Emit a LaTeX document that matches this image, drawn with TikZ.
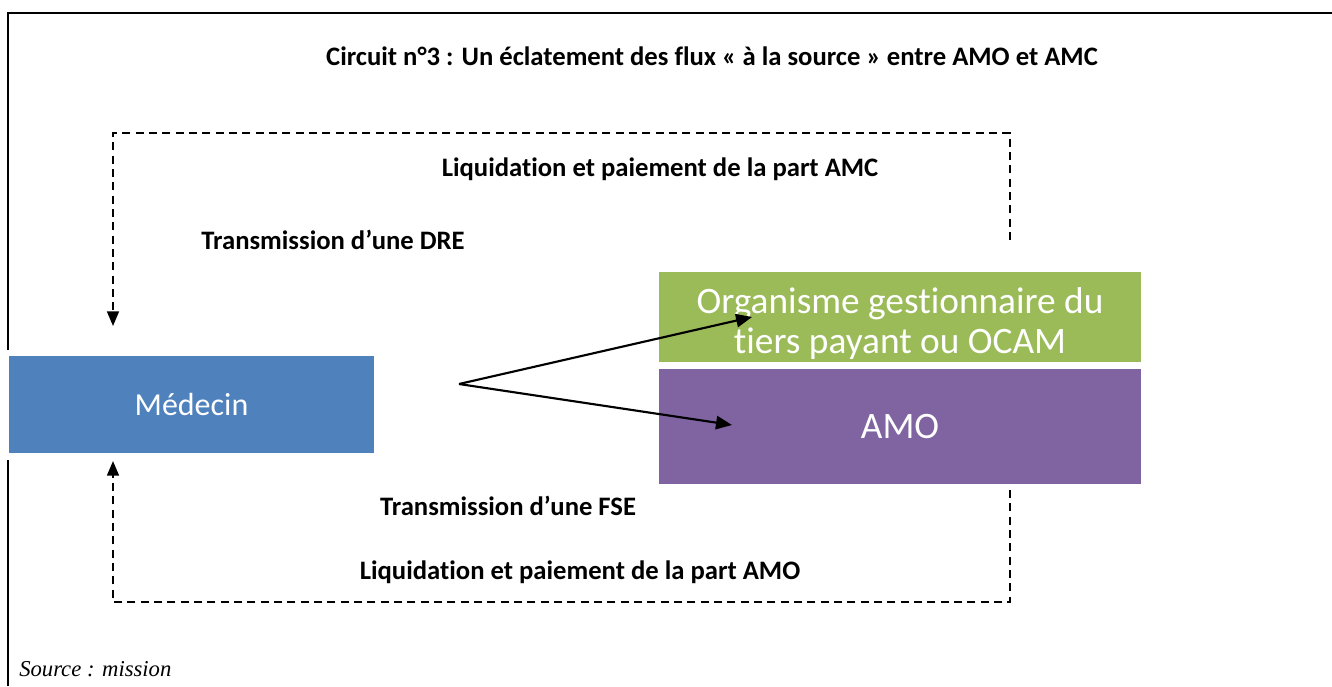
\documentclass[tikz,border=0pt]{standalone}
\usepackage{fontspec}
\setmainfont{Carlito}[Ligatures=NoCommon]
\newfontfamily\srcfont{Liberation Serif}
\usetikzlibrary{arrows.meta}
\definecolor{bluebox}{HTML}{4F81BD}
\definecolor{greenbox}{HTML}{9BBB59}
\definecolor{purplebox}{HTML}{8064A2}
\begin{document}
\begin{tikzpicture}[x=0.75pt,y=-0.75pt,
  frame/.style={line width=2.2pt},
  flow/.style={dashed,line width=1.3pt,dash pattern=on 6pt off 4pt},
  flowarrow/.style={flow,-{Triangle[length=11pt,width=9pt]}},
  boxtext/.style={text=white,font=\fontsize{28}{30}\selectfont,align=center,inner sep=0pt},
  lbl/.style={font=\bfseries\fontsize{20}{24}\selectfont,inner sep=0pt},
  solidarrow/.style={line width=1.6pt,-{Triangle[length=12pt,width=10pt]}}]
\useasboundingbox (0,0) rectangle (1332,686);
% frame
\draw[frame] (8,686) -- (8,460);
\draw[frame] (8,350) -- (8,13) -- (1332,13);
% boxes
\fill[bluebox] (9,356) rectangle (374,453);
\node[boxtext,font=\fontsize{24}{28}\selectfont] (med) at (191.5,404.5) {Médecin};
\fill[greenbox] (659,272) rectangle (1141,362);
\node[boxtext] (oc) at (900,324) {Organisme gestionnaire du\\tiers payant ou OCAM};
\fill[purplebox] (659,369) rectangle (1141,484);
\node[boxtext] (amo) at (900,426.5) {AMO};
% labels
\node[lbl] (title) at (712,56) {Circuit n°3 : Un éclatement des flux « à la source » entre AMO et AMC};
\node[lbl] (lamc) at (660,169) {Liquidation et paiement de la part AMC};
\node[lbl] (dre) at (333,240) {Transmission d’une DRE};
\node[lbl] (fse) at (508,506) {Transmission d’une FSE};
\node[lbl] (lamo) at (580,572) {Liquidation et paiement de la part AMO};
\node[anchor=base west,inner sep=0pt,font=\srcfont\itshape\fontsize{17}{19}\selectfont] (src) at (19,676) {Source : mission};
% dashed flows
\coordinate (t1) at (1010,240);
\coordinate (t2) at (1010,133);
\coordinate (t3) at (113,133);
\coordinate (t4) at (113,326);
\draw[flowarrow] (t1) -- (t2) -- (t3) -- (t4);
\coordinate (b1) at (1010,490);
\coordinate (b2) at (1010,602);
\coordinate (b3) at (113,602);
\coordinate (b4) at (113,461);
\draw[flowarrow] (b1) -- (b2) -- (b3) -- (b4);
% solid arrows
\coordinate (src0) at (459,384);
\coordinate (e1) at (752,317);
\coordinate (e2) at (732,425);
\draw[solidarrow] (src0) -- (e1);
\draw[solidarrow] (src0) -- (e2);
\end{tikzpicture}
\end{document}
